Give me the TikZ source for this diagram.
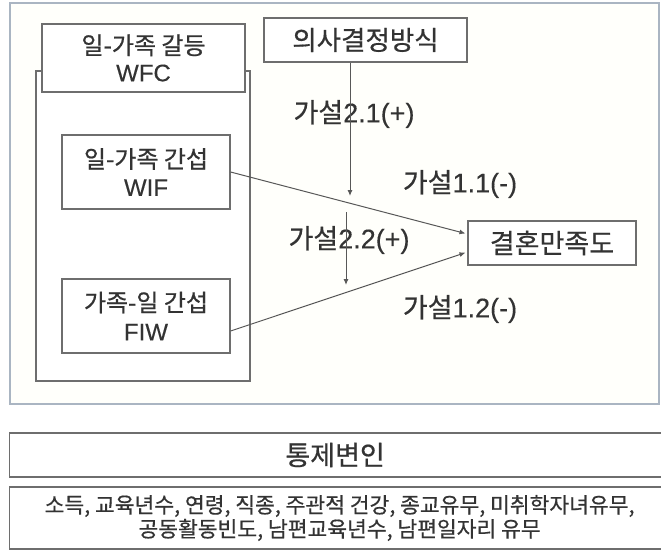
\documentclass[tikz,border=0pt]{standalone}
\usepackage{fontspec}
\setmainfont{Liberation Sans}[FakeBold=0.3]
\newfontfamily\kr{Noto Sans CJK KR}[FakeBold=0.6]
\usetikzlibrary{arrows.meta}
\definecolor{txt}{HTML}{333333}
\definecolor{boxline}{HTML}{6E6E6E}
\definecolor{frameline}{HTML}{AAB5C2}
\definecolor{framefill}{HTML}{FFFFFB}
\begin{document}
\begin{tikzpicture}[x=1pt,y=-1pt,
  box/.style={draw=boxline, line width=1.2pt, fill=white, inner sep=0pt, text=txt, align=center},
  lbl/.style={inner sep=0pt, text=txt, font=\fontsize{27}{30}\selectfont},
  conn/.style={draw=boxline!80!black, line width=1pt, -{Latex[length=6pt,width=5pt]}}
]
\useasboundingbox (0,0) rectangle (661,549);
\clip (0,0) rectangle (661,549);
% outer frame
\node[draw=frameline, line width=1.8pt, fill=framefill, minimum width=649pt, minimum height=401pt, inner sep=0pt] (frame) at (334.5,203.5) {};
% WFC group
\node[box, minimum width=214pt, minimum height=310pt] (wfcout) at (143,226) {};
\node[box, minimum width=203pt, minimum height=68pt, font=\fontsize{24}{27}\selectfont] (wfc) at (143.5,58)
  {{\kr 일-가족 갈등}\\WFC};
\node[box, minimum width=168pt, minimum height=74pt, font=\fontsize{24}{28}\selectfont] (wif) at (146,172)
  {{\kr 일-가족 간섭}\\WIF};
\node[box, minimum width=168pt, minimum height=74pt, font=\fontsize{24}{29}\selectfont] (fiw) at (146,316)
  {{\kr 가족-일 간섭}\\FIW};
% decision style
\node[box, minimum width=203pt, minimum height=44pt, font=\kr\fontsize{26.5}{30}\selectfont] (dec) at (365.5,40) {의사결정방식};
% marital satisfaction
\node[box, minimum width=168pt, minimum height=44pt, font=\kr\fontsize{27}{30}\selectfont] (sat) at (552,243) {결혼만족도};
% hypothesis labels
\node[lbl] (h21) at (354,114) {{\kr 가설}2.1(+)};
\node[lbl] (h11) at (460,184) {{\kr 가설}1.1(-)};
\node[lbl] (h22) at (349,240) {{\kr 가설}2.2(+)};
\node[lbl] (h12) at (460,309) {{\kr 가설}1.2(-)};
% connectors
\coordinate (a1) at (350,196);
\coordinate (b0) at (346,212);
\coordinate (b1) at (346,285);
\draw[conn] ([xshift=-15.5pt]dec.south) -- (a1);
\draw[conn] (b0) -- (b1);
\draw[conn, shorten >=2pt] (wif.east) -- ([yshift=9pt]sat.west);
\draw[conn, shorten >=2pt] ([yshift=-15pt]fiw.east) -- ([yshift=-9pt]sat.west);
% control variables
\node[box, minimum width=660pt, minimum height=44pt, font=\kr\fontsize{27}{30}\selectfont, anchor=west] (ctl) at (9,455) {\hspace*{-9pt}통제변인};
\node[box, minimum width=660pt, minimum height=62pt, font=\kr\fontsize{21.5}{24}\selectfont, anchor=west] (list) at (9,518)
  {소득, 교육년수, 연령, 직종, 주관적 건강, 종교유무, 미취학자녀유무,\\공동활동빈도, 남편교육년수, 남편일자리 유무};
\end{tikzpicture}
\end{document}
